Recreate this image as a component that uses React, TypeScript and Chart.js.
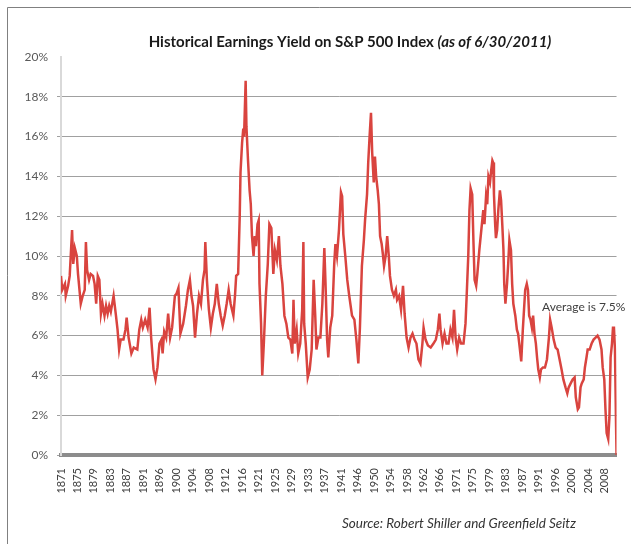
import React, { useEffect, useRef } from "react";
import { Chart, registerables } from "chart.js";

Chart.register(...registerables);

// ---- Data ----
const years = [
  1871.0, 1871.3, 1872.0, 1872.2, 1872.8, 1873.2, 1873.8, 1874.1, 1874.5, 1875.0,
  1875.3, 1876.0, 1876.5, 1877.0, 1877.3, 1877.6, 1878.1, 1878.5, 1879.1, 1879.5,
  1879.9, 1880.3, 1880.7, 1881.1, 1881.5, 1882.0, 1882.4, 1882.8, 1883.2, 1883.6,
  1884.3, 1884.9, 1885.3, 1885.7, 1886.1, 1886.8, 1887.3, 1887.6, 1888.1, 1888.8,
  1889.4, 1890.3, 1890.8, 1891.3, 1891.7, 1892.3, 1892.9, 1893.4, 1893.8, 1894.4,
  1894.9, 1895.4, 1895.9, 1896.4, 1896.7, 1897.1, 1897.6, 1898.1,
  1898.6, 1899.1, 1899.8, 1900.2, 1900.7, 1901.2, 1901.9, 1902.6, 1903.1, 1903.6,
  1904.0, 1904.4, 1904.9, 1905.4, 1905.9, 1906.4, 1906.9, 1907.3, 1907.5, 1907.9,
  1908.4, 1908.9, 1909.4, 1909.9, 1910.4, 1910.9, 1911.4, 1911.9, 1912.4, 1912.9,
  1913.4, 1913.9, 1914.6, 1915.0, 1915.3, 1915.8, 1916.2, 1916.4, 1916.8, 1917.1,
  1917.3, 1917.7, 1917.9, 1918.3, 1918.7, 1919.0, 1919.3, 1919.7, 1920.0, 1920.3,
  1920.7, 1921.0, 1921.2, 1921.6, 1921.9, 1922.3, 1922.8, 1923.3, 1923.7, 1924.2,
  1924.7, 1925.1, 1925.6, 1926.1, 1926.5, 1927.0, 1927.5, 1928.0, 1928.5, 1929.0,
  1929.5, 1929.8, 1930.1, 1930.6, 1931.0, 1931.5, 1932.0, 1932.3, 1932.5, 1932.9,
  1933.4, 1933.9, 1934.4, 1934.9, 1935.3, 1935.6, 1936.1, 1936.6, 1937.1, 1937.6,
  1937.9, 1938.3, 1938.6, 1939.1, 1939.6, 1940.1, 1940.4, 1940.8, 1941.3, 1941.8,
  1942.1, 1942.4, 1942.9, 1943.4, 1943.9, 1944.6, 1945.2, 1945.7, 1946.2, 1946.6,
  1947.1, 1947.6, 1947.9, 1948.4, 1948.7, 1949.1, 1949.4, 1949.7, 1950.1, 1950.4,
  1950.7, 1951.1, 1951.4, 1951.7, 1952.1, 1952.4, 1952.7, 1953.1, 1953.5, 1953.9,
  1954.2, 1954.7, 1955.2, 1955.7, 1956.0, 1956.5, 1957.0, 1957.5, 1957.9, 1958.4,
  1958.9, 1959.4, 1959.9, 1960.4, 1960.9, 1961.4, 1961.9, 1962.4, 1962.7, 1963.2,
  1963.8, 1964.5, 1965.2, 1965.8, 1966.3, 1966.7, 1967.0, 1967.5, 1968.0, 1968.5,
  1969.0, 1969.5, 1970.0, 1970.4, 1970.8, 1971.2, 1971.7, 1972.2, 1972.8, 1973.3,
  1973.6, 1974.0, 1974.3, 1974.6, 1975.0, 1975.3, 1975.6, 1976.0, 1976.3, 1976.8,
  1977.3, 1977.8, 1978.1, 1978.5, 1978.8, 1979.1, 1979.5, 1979.8, 1980.1, 1980.3,
  1980.5, 1980.8, 1981.0, 1981.3, 1981.6, 1982.0, 1982.3, 1982.6, 1982.9, 1983.1,
  1983.4, 1983.8, 1984.1, 1984.4, 1984.8, 1985.1, 1985.4, 1985.9, 1986.3, 1986.6,
  1986.9, 1987.4, 1987.8, 1988.1, 1988.4, 1988.8, 1989.1, 1989.4, 1989.75, 1990.1,
  1990.4, 1990.75, 1991.1, 1991.4, 1991.7, 1992.1, 1992.4, 1992.9, 1993.4, 1993.9,
  1994.4, 1994.7, 1995.1, 1995.6, 1996.1, 1996.6, 1997.1, 1997.6, 1998.05, 1998.6,
  1999.05, 1999.4, 1999.9, 2000.4, 2000.9, 2001.2, 2001.7, 2002.0, 2002.4, 2002.7,
  2003.2, 2003.5, 2003.9, 2004.2, 2004.7, 2005.2, 2005.7, 2006.2, 2006.7, 2007.2,
  2007.7, 2008.0, 2008.4, 2008.7, 2009.0, 2009.4, 2009.7, 2010.0, 2010.35, 2010.6,
  2010.85, 2011.1, 2011.35, 2011.5,
];

const earningsYield = [
  9.0, 8.3, 8.6, 8.0, 8.5, 9.0, 11.3, 9.6, 10.4, 10.0,
  9.1, 7.6, 8.0, 8.3, 10.7, 9.3, 8.8, 9.1, 9.0, 8.6,
  7.6, 9.0, 8.8, 7.1, 7.6, 7.0, 7.5, 7.1, 7.5, 7.2,
  8.0, 7.0, 6.3, 5.3, 5.8, 5.8, 6.3, 6.9, 5.9, 5.1,
  5.4, 5.3, 6.3, 6.8, 6.4, 6.8, 6.4, 7.4, 5.9, 4.3,
  3.8, 4.4, 5.6, 5.8, 5.1, 6.2, 5.9, 7.1,
  5.9, 6.4, 8.0, 8.1, 8.4, 6.1, 6.6, 7.5, 8.3, 8.8,
  8.0, 7.5, 5.9, 7.1, 8.0, 7.6, 8.8, 9.3, 10.7, 8.8,
  7.3, 6.4, 7.1, 7.6, 8.6, 7.6, 7.0, 6.5, 7.0, 7.6,
  8.3, 7.6, 7.0, 8.0, 9.0, 9.1, 12.0, 14.2, 15.7, 16.4,
  16.0, 18.8, 16.5, 14.8, 13.3, 12.6, 11.0, 10.0, 11.0, 10.5,
  11.6, 11.8, 8.6, 6.6, 4.0, 5.6, 8.0, 9.6, 11.6, 11.4,
  9.1, 10.3, 9.8, 11.0, 9.5, 8.6, 7.0, 6.6, 5.9, 5.8,
  5.1, 7.8, 5.6, 6.3, 5.1, 5.6, 7.3, 10.7, 6.6, 5.6,
  3.9, 4.3, 5.3, 8.8, 7.0, 5.3, 5.9, 5.9, 7.6, 10.4,
  8.6, 5.8, 4.9, 6.4, 7.0, 9.6, 10.6, 10.0, 11.3, 13.2,
  13.0, 11.1, 10.0, 8.8, 8.0, 7.0, 6.8, 5.8, 4.6, 6.4,
  9.5, 10.8, 11.8, 13.1, 14.7, 16.2, 17.2, 15.2, 13.7, 15.0,
  14.0, 13.3, 12.6, 11.0, 10.6, 10.1, 9.5, 10.0, 11.0, 10.0,
  9.0, 8.3, 8.0, 8.3, 7.8, 8.0, 7.3, 8.5, 7.1, 5.9,
  5.4, 5.9, 6.1, 5.8, 5.6, 4.8, 4.6, 5.6, 6.4, 5.8,
  5.5, 5.4, 5.6, 5.8, 6.3, 7.1, 6.3, 5.6, 6.1, 5.6,
  5.6, 6.3, 5.9, 7.3, 5.9, 5.3, 5.9, 5.6, 5.6, 6.6,
  8.0, 10.0, 12.3, 13.4, 13.1, 10.8, 8.8, 8.5, 9.1, 10.3,
  11.3, 12.3, 11.6, 13.0, 12.6, 14.0, 13.7, 14.3, 14.8, 14.7,
  13.1, 11.6, 10.9, 11.3, 12.3, 13.3, 12.8, 11.6, 10.3, 8.6,
  7.6, 8.6, 9.6, 10.8, 10.3, 8.6, 7.6, 7.0, 6.3, 6.1,
  5.6, 4.7, 6.3, 7.3, 8.3, 8.6, 8.3, 7.0, 6.8, 6.4,
  7.0, 6.1, 5.6, 4.9, 4.3, 3.9, 4.3, 4.4, 4.4, 4.8,
  5.9, 6.8, 6.4, 5.8, 5.4, 5.3, 4.8, 4.3, 3.8, 3.4,
  3.1, 3.4, 3.6, 3.8, 3.9, 2.9, 2.3, 2.4, 3.4, 3.6,
  3.8, 4.4, 4.9, 5.3, 5.3, 5.6, 5.8, 5.9, 6.0, 5.8,
  5.3, 4.4, 3.8, 2.3, 1.1, 0.8, 1.9, 4.9, 5.6, 6.4,
  6.4, 5.3, 1.9, 0.0,
];

const tickLabels = [
  "1871", "1875", "1879", "1883", "1887", "1891", "1896", "1900", "1904", "1908",
  "1912", "1916", "1921", "1925", "1929", "1933", "1937", "1941", "1946", "1950",
  "1954", "1958", "1962", "1966", "1971", "1975", "1979", "1983", "1987", "1991",
  "1996", "2000", "2004", "2008",
];
const MONTHS_PER_TICK = 50;
const FIRST_YEAR = 1871;
const LAST_YEAR = 2011.5;

const titleMain = "Historical Earnings Yield on S&P 500 Index ";
const titleItalic = "(as of 6/30/2011)";
const sourceText = "Source: Robert Shiller and Greenfield Seitz";
const averageNote = "Average is 7.5%";

const FONT = "Lato, 'Open Sans', sans-serif";

const decorPlugin = {
  id: "decor",
  beforeDraw(chart: any) {
    const ctx = chart.ctx;
    ctx.save();
    ctx.fillStyle = "#ffffff";
    ctx.fillRect(0, 0, chart.width, chart.height);
    ctx.strokeStyle = "#808080";
    ctx.lineWidth = 1;
    ctx.beginPath();
    ctx.moveTo(7.5, chart.height);
    ctx.lineTo(7.5, 7.5);
    ctx.lineTo(chart.width, 7.5);
    ctx.stroke();
    ctx.restore();
  },
  afterDraw(chart: any) {
    const ctx = chart.ctx;
    ctx.save();
    // Title
    ctx.fillStyle = "#1a1a1a";
    ctx.textBaseline = "middle";
    ctx.textAlign = "left";
    const size = 15;
    ctx.font = `bold ${size}px ${FONT}`;
    const w1 = ctx.measureText(titleMain).width;
    ctx.font = `italic bold ${size}px ${FONT}`;
    const w2 = ctx.measureText(titleItalic).width;
    const startX = 350 - (w1 + w2) / 2;
    ctx.font = `bold ${size}px ${FONT}`;
    ctx.fillText(titleMain, startX, 42);
    ctx.font = `italic bold ${size}px ${FONT}`;
    ctx.fillText(titleItalic, startX + w1, 42);

    // Average annotation
    ctx.font = `12px ${FONT}`;
    ctx.fillStyle = "#404040";
    ctx.fillText(averageNote, 542, 307);

    // Source
    ctx.font = `italic 13.5px ${FONT}`;
    ctx.fillStyle = "#333333";
    ctx.fillText(sourceText, 342, 524);
    ctx.restore();
  },
};

export default function App() {
  const canvasRef = useRef<HTMLCanvasElement | null>(null);

  useEffect(() => {
    const canvas = canvasRef.current;
    if (!canvas) return;
    const chart = new Chart(canvas, {
      type: "line",
      data: {
        datasets: [
          {
            data: years.map((x, i) => ({ x, y: earningsYield[i] })),
            borderColor: "#d9443f",
            borderWidth: 2.5,
            pointRadius: 0,
            tension: 0,
            fill: false,
          },
        ],
      },
      options: {
        animation: false,
        responsive: false,
        devicePixelRatio: 1,
        layout: { padding: { top: 57, right: 6, bottom: 0, left: 0 } },
        plugins: {
          legend: { display: false },
          tooltip: { enabled: false },
        },
        scales: {
          x: {
            type: "linear",
            min: FIRST_YEAR,
            max: LAST_YEAR,
            afterBuildTicks: (scale: any) => {
              scale.ticks = tickLabels.map((_, i) => ({
                value: FIRST_YEAR + (i * MONTHS_PER_TICK) / 12,
              }));
            },
            afterFit: (scale: any) => {
              scale.height = 89;
            },
            ticks: {
              autoSkip: false,
              maxRotation: 90,
              minRotation: 90,
              padding: 13,
              color: "#404040",
              font: { family: FONT, size: 11 },
              callback: (_v: any, i: number) => tickLabels[i],
            },
            grid: {
              display: true,
              drawOnChartArea: false,
              drawTicks: false,
              color: "rgba(0,0,0,0)",
            },
            border: { display: true, color: "#8c8c8c", width: 4 },
          },
          y: {
            min: 0,
            max: 20,
            afterFit: (scale: any) => {
              scale.width = 61;
            },
            ticks: {
              stepSize: 2,
              padding: 9,
              color: "#595959",
              font: { family: FONT, size: 12 },
              callback: (v: any) => `${v}%`,
            },
            grid: {
              color: (c: any) =>
                c.tick && c.tick.value === 20 ? "rgba(0,0,0,0)" : "#a0a0a0",
              tickLength: 4,
              lineWidth: 1,
            },
            border: { display: true, color: "#d9d9d9", width: 2 },
          },
        },
      },
      plugins: [decorPlugin],
    });
    return () => chart.destroy();
  }, []);

  return (
    <div style={{ position: "absolute", left: 0, top: 0, width: 631, height: 544 }}>
      <canvas ref={canvasRef} width={631} height={544} />
    </div>
  );
}
